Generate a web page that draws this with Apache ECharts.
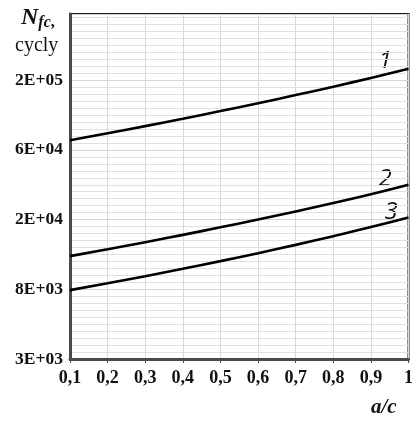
<!DOCTYPE html>
<html><head><meta charset="utf-8">
<script src="https://cdn.jsdelivr.net/npm/echarts@6/dist/echarts.min.js"></script>
<style>html,body{margin:0;padding:0;background:#fff}#c{width:416px;height:423px}</style>
</head><body><div id="c"></div>
<script>
// a/c values
const aOverC = [0.1, 0.2, 0.3, 0.4, 0.5, 0.6, 0.7, 0.8, 0.9, 1.0];
// N_fc, cycles
const curve1 = [68700, 75950, 84200, 93600, 104500, 117100, 131500, 148300, 168200, 191900];
const curve2 = [13040, 14390, 15930, 17690, 19730, 22060, 24770, 27940, 31690, 36310];
const curve3 = [8010, 8830, 9780, 10870, 12140, 13610, 15330, 17370, 19780, 22700];
const curveNames = ['1', '2', '3'];
// y tick labels at e^8 ... e^12 (natural-log axis)
const yTickLabels = ['3E+03', '8E+03', '2E+04', '6E+04', '2E+05'];
const xTickLabels = ['0,1', '0,2', '0,3', '0,4', '0,5', '0,6', '0,7', '0,8', '0,9', '1'];

const Y_MIN_EXP = 8;
const toPts = arr => aOverC.map((x, i) => [x, Math.log(arr[i])]);

const chart = echarts.init(document.getElementById('c'), null, {renderer: 'canvas'});
const serif = '"Liberation Serif", "Times New Roman", serif';
const sans = '"Open Sans", "Liberation Sans", sans-serif';
const lineStyle = {color: '#000', width: 2.6};

chart.setOption({
  animation: false,
  backgroundColor: '#fff',
  grid: {left: 70, right: 2, top: 14, bottom: 64, show: true, borderColor: '#1a1a1a', borderWidth: 2, backgroundColor: 'transparent'},
  xAxis: {
    type: 'value', min: 0.1, max: 1.0, interval: 0.1,
    axisLine: {show: true, onZero: false, lineStyle: {color: '#4a4a4a', width: 3}},
    axisTick: {show: true, length: 4, lineStyle: {color: '#4a4a4a', width: 1}},
    splitLine: {show: true, lineStyle: {color: '#d9d9d9', width: 1}},
    axisLabel: {
      margin: 10, fontFamily: serif, fontWeight: 'bold', fontSize: 18, color: '#111',
      showMinLabel: true, showMaxLabel: true,
      formatter: v => { const i = Math.round((v - 0.1) * 10); return xTickLabels[i] !== undefined ? xTickLabels[i] : ''; }
    }
  },
  yAxis: {
    type: 'value', min: Y_MIN_EXP, max: 12.95, interval: 1,
    axisLine: {show: true, lineStyle: {color: '#4a4a4a', width: 3}},
    axisTick: {show: false},
    splitLine: {show: true, lineStyle: {color: '#d5d5d5', width: 1}},
    minorTick: {show: false, splitNumber: 10},
    minorSplitLine: {show: true, lineStyle: {color: '#e0e0e0', width: 1}},
    axisLabel: {
      margin: 7, fontFamily: serif, fontWeight: 'bold', fontSize: 17.5, color: '#111',
      showMaxLabel: false,
      formatter: v => { const i = Math.round(v - Y_MIN_EXP); return (Math.abs(v - Y_MIN_EXP - i) < 1e-6 && yTickLabels[i]) ? yTickLabels[i] : ''; }
    }
  },
  series: [curve1, curve2, curve3].map((c, k) => ({
    type: 'line', name: curveNames[k], data: toPts(c), smooth: true, showSymbol: false, lineStyle
  })),
  graphic: [
    {type: 'text', left: 21, top: 6, style: {text: '{n|N}{s|fc}{c|,}', rich: {
      n: {fontFamily: serif, fontStyle: 'italic', fontWeight: 'bold', fontSize: 24, fill: '#111'},
      s: {fontFamily: serif, fontStyle: 'italic', fontWeight: 'bold', fontSize: 16, fill: '#111', padding: [10, 0, 0, 0]},
      c: {fontFamily: serif, fontWeight: 'bold', fontSize: 16, fill: '#111', padding: [10, 0, 0, 0]}
    }}},
    {type: 'text', left: 15, top: 36, style: {text: 'cycly', fontFamily: serif, fontSize: 20, fill: '#111'}},
    {type: 'text', left: 371, top: 397, style: {text: 'a/c', fontFamily: serif, fontStyle: 'italic', fontWeight: 'bold', fontSize: 21, fill: '#111'}},
    {type: 'text', x: 385, y: 61, style: {text: curveNames[0], fontFamily: sans, fontStyle: 'italic', fontSize: 24, fill: '#111', align: 'center', verticalAlign: 'middle'}},
    {type: 'text', x: 385, y: 179, style: {text: curveNames[1], fontFamily: sans, fontStyle: 'italic', fontSize: 24, fill: '#111', align: 'center', verticalAlign: 'middle'}},
    {type: 'text', x: 391, y: 212, style: {text: curveNames[2], fontFamily: sans, fontStyle: 'italic', fontSize: 24, fill: '#111', align: 'center', verticalAlign: 'middle'}}
  ]
});
</script></body></html>
